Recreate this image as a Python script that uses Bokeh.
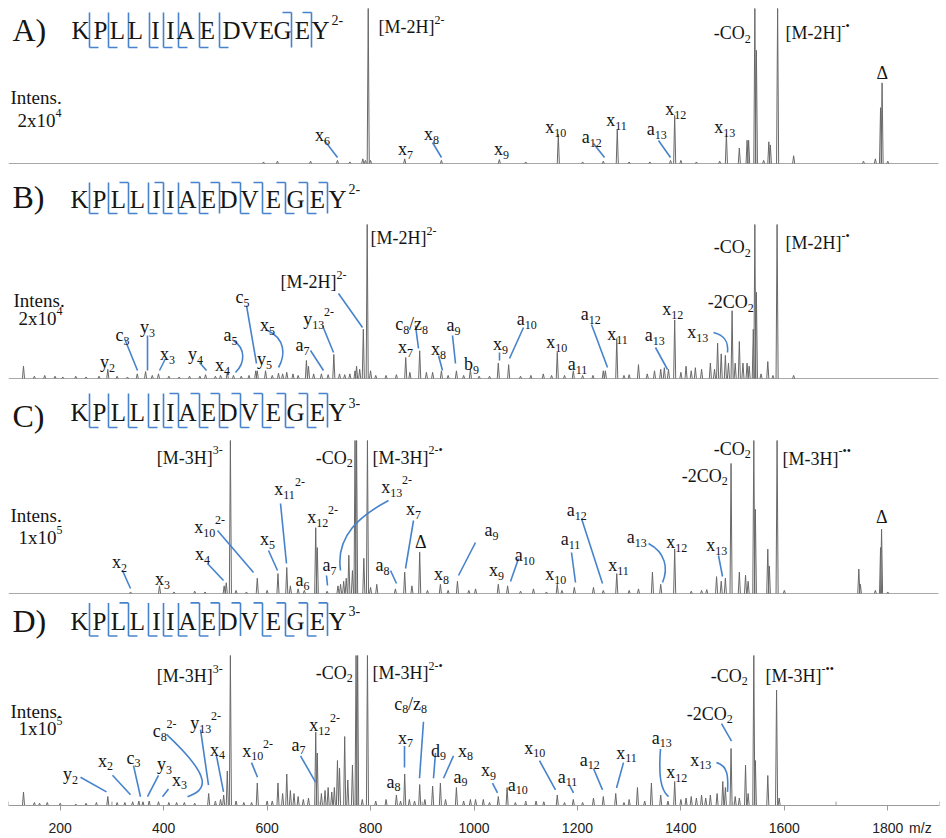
import re
import numpy as np
from bokeh.plotting import figure
from bokeh.models import Range1d, ColumnDataSource, FixedTicker
from bokeh.layouts import column
from bokeh.embed import file_html
from bokeh.resources import INLINE
from bokeh.core.properties import value

# ---------------------------------------------------------------- data
# peak lists (m/z, relative intensity in % of the displayed scale; 100 = off-scale)
mz_A = [593, 620, 684, 736, 760, 785, 790, 795.5, 800, 866, 937, 1049, 1100, 1163, 1210, 1250,
        1277, 1300, 1340, 1380, 1388, 1400, 1430, 1475, 1488, 1513, 1528, 1531, 1543, 1546,
        1560, 1570, 1573, 1587, 1618, 1753, 1776, 1786, 1789, 1800]
int_A = [1, 1.5, 1.5, 2, 1, 3, 2, 100, 2, 3, 2, 2.5, 1, 19, 1, 1.5,
         22, 1, 1, 2, 31, 2, 1, 1.5, 19, 10, 15, 15, 100, 73,
         2, 14, 12, 100, 5, 1.5, 3, 36, 52, 1.5]

mz_B = [129, 150, 170, 190, 205, 230, 250, 275, 292, 310, 330, 349, 365, 378, 390, 410, 430, 450,
        470, 481, 500, 510, 523, 535, 550, 565, 578, 581, 597, 610, 622, 630, 638, 650, 660, 676,
        680, 690, 705, 718, 729, 740, 750, 760, 770, 773, 779, 786, 793.5, 800, 810, 830, 850,
        868, 876, 895, 908, 920, 937, 950, 966, 980, 993, 1010, 1030, 1047, 1067, 1090, 1110,
        1134, 1150, 1161, 1175, 1192, 1210, 1230, 1250, 1254, 1276, 1290, 1300, 1318, 1335,
        1349, 1361, 1368, 1376, 1388, 1400, 1410, 1420, 1428, 1440, 1457, 1465, 1471, 1478,
        1486, 1492, 1499, 1505, 1513, 1520, 1528, 1532, 1540, 1543, 1546, 1555, 1568, 1578,
        1586, 1618]
int_B = [8, 1.5, 2, 1.5, 1, 1.5, 1, 1.5, 6, 1.5, 1, 3, 4.5, 2, 3, 1.5, 1, 1.5,
         1.5, 2.5, 1.5, 2, 4, 2, 1.5, 2, 5, 5, 5, 2, 3.5, 3, 4, 3, 2, 11.7,
         8, 3, 3, 2.5, 15.6, 3, 2.5, 3, 5, 8, 6, 32, 100, 5, 2, 2, 2.5,
         13.6, 4, 18, 4, 4, 5, 2, 5, 2, 6, 1.5, 1.5, 10, 9, 1.5, 2,
         3, 2, 17, 2, 5, 2, 2, 5, 5, 26, 2, 2.5, 9, 3,
         5, 6, 7, 6, 38, 4, 8, 5, 7, 6, 10, 6, 23, 16,
         15, 10, 44, 10, 24, 10, 10, 8, 32, 100, 56, 3, 11, 2,
         100, 2]

mz_C = [336, 392, 420, 460, 480, 517, 521, 529, 540, 560, 581, 600, 621, 638, 645, 660, 672,
        694, 697, 716, 737, 742, 748, 753, 758, 765, 770, 773, 787, 794, 800, 812, 848, 866,
        880, 895, 910, 935, 950, 968, 990, 1003, 1047, 1065, 1090, 1115, 1140, 1161, 1170,
        1194, 1231, 1250, 1276, 1300, 1318, 1345, 1361, 1388, 1420, 1440, 1450, 1469, 1478,
        1486, 1497, 1513, 1525, 1530, 1541, 1544, 1568, 1571, 1586, 1600, 1744, 1747, 1776,
        1786, 1788, 1800]
int_C = [1, 5, 1, 1.5, 1, 5, 7, 100, 2, 1, 10, 2, 13, 17, 5, 3, 2,
         43, 30, 1.5, 5, 6, 8, 10, 25, 15, 100, 100, 23, 100, 4, 6, 3, 14,
         5, 27, 2, 6, 2, 8, 2, 3, 6, 5, 1.5, 3, 1, 6, 2,
         4, 4, 2, 13, 2, 3, 14, 6, 29, 1.5, 2, 2.5, 11, 8,
         10, 85, 14, 12, 8, 100, 55, 29, 18, 100, 2, 16, 6, 2,
         30, 42, 1]

mz_D = [129, 150, 160, 175, 200, 230, 250, 270, 292, 310, 325, 340, 352, 360, 372, 390, 410, 425,
        440, 460, 487, 500, 510, 516, 523, 529, 540, 555, 570, 581, 600, 610, 621, 630, 638,
        645, 652, 660, 670, 680, 694, 697, 705, 712, 718, 725, 730, 736, 740, 750, 756, 765,
        772, 775, 784, 794, 810, 830, 850, 858, 866, 875, 885, 895, 905, 920, 935, 945, 966,
        980, 993, 1003, 1018, 1030, 1047, 1064, 1080, 1100, 1120, 1135, 1161, 1175, 1192,
        1210, 1231, 1250, 1274, 1290, 1300, 1316, 1330, 1343, 1361, 1375, 1388, 1400, 1410,
        1420, 1430, 1440, 1448, 1457, 1470, 1481, 1486, 1497, 1505, 1513, 1525, 1530, 1541,
        1544, 1568, 1585, 1590]
int_D = [9, 2, 1.5, 2, 1.5, 1, 1.5, 2, 6, 2, 2, 2.5, 3, 2.5, 3, 2.5, 2, 2,
         2, 1.5, 8, 3, 4, 7, 23, 100, 3, 2, 2, 15, 3, 3, 15, 8, 21,
         10, 8, 6, 4, 5, 49, 35, 8, 10, 12, 9, 12, 30, 25, 46, 17, 27,
         100, 100, 4, 100, 3, 4, 7, 3, 21, 4, 3, 14, 4, 13, 15, 4, 12,
         3, 4, 4, 4, 2, 6, 12, 2, 3, 3, 2.5, 7, 2, 4,
         2, 5, 6, 8, 2, 4, 12, 3, 15, 7, 3, 16, 4, 5,
         6, 5, 7, 5, 7, 8, 16, 12, 38, 6, 5, 27, 8, 100,
         30, 20, 77, 5]

sequence = ["K", "P", "L", "L", "I", "I", "A", "E", "D", "V", "E", "G", "E", "Y"]
precursor_charge = {"A": "2-", "B": "2-", "C": "3-", "D": "3-"}
# cleavage sites (1 = between residue 1 and 2) with N-terminal (a/b/c/d) and C-terminal (x/y/z) ions
n_sites = {"A": [12, 13], "B": [3, 5, 7, 8, 9, 10, 11, 12, 13],
           "C": [6, 7, 8, 9, 10, 11, 12, 13], "D": [3, 7, 8, 9, 10, 11, 12, 13]}
c_sites = {"A": [1, 2, 3, 4, 5, 6, 7, 8], "B": [1, 2, 3, 4, 5, 6, 7, 9, 10, 11, 12],
           "C": [1, 2, 3, 4, 5, 6, 7, 8, 9, 10, 11, 12], "D": [1, 2, 3, 4, 5, 6, 7, 10, 11, 12]}
intens_scale = {"A": "2x10^{4}", "B": "2x10^{4}", "C": "1x10^{5}", "D": "1x10^{5}"}
tick_values = [200, 400, 600, 800, 1000, 1200, 1400, 1600, 1800]
minor_values = [100, 300, 500, 700, 900, 1100, 1300, 1500, 1700, 1900]
xlabel = "m/z"

# ---------------------------------------------------------------- layout (annotation placement)
W = 946
XMIN, XMAX = 100, 1900
FL, FR = 8, 939                      # frame left/right in page px
PXPER = (FR - FL) / (XMAX - XMIN)


def px2mz(px):
    return XMIN + (px - FL) / PXPER


REF = {"A": (163, 8), "B": (378, 224), "C": (593, 440), "D": (811, 657)}


def py2i(pn, py):
    b, c = REF[pn]
    return (b - py) / (b - c) * 100.0


# label markup, centre x, centre y, alignment
ann = {
    "A": [("[M-2H]^{2-}", 378, 27, "l"), ("-CO_{2}", 750, 33, "r"), ("[M-2H]^{-•}", 785, 33, "l"),
          ("Δ", 881.5, 73, "c"), ("x_{6}", 322, 133, "c"), ("x_{7}", 405, 147, "c"),
          ("x_{8}", 431, 132, "c"), ("x_{9}", 501, 147, "c"), ("x_{10}", 555, 125, "c"),
          ("a_{12}", 591, 135, "c"), ("x_{11}", 616, 118, "c"), ("a_{13}", 656, 127, "c"),
          ("x_{12}", 675, 107, "c"), ("x_{13}", 724, 125, "c")],
    "B": [("[M-2H]^{2-}", 370, 238, "l"), ("[M-2H]^{2-}", 280, 282, "l"), ("-CO_{2}", 750, 247, "r"),
          ("[M-2H]^{-•}", 785, 243, "l"), ("-2CO_{2}", 753, 302, "r"), ("c_{5}", 242, 295, "c"),
          ("a_{5}", 230, 333, "c"), ("x_{5}", 267, 323, "c"), ("y_{5}", 264, 357, "c"),
          ("x_{4}", 222, 363, "c"), ("y_{4}", 195, 352, "c"), ("x_{3}", 167, 352, "c"),
          ("y_{3}", 147, 325, "c"), ("c_{3}", 122, 333, "c"), ("y_{2}", 107, 360, "c"),
          ("a_{7}", 302, 343, "c"), ("y_{13}^{2-}", 318, 317, "c"), ("c_{8}/z_{8}", 411, 322, "c"),
          ("x_{7}", 405, 345, "c"), ("x_{8}", 438, 347, "c"), ("a_{9}", 453, 323, "c"),
          ("b_{9}", 471, 362, "c"), ("x_{9}", 500, 342, "c"), ("a_{10}", 526, 317, "c"),
          ("x_{10}", 556, 340, "c"), ("a_{11}", 577, 362, "c"), ("a_{12}", 590, 312, "c"),
          ("x_{11}", 617, 332, "c"), ("a_{13}", 654, 333, "c"), ("x_{12}", 672, 307, "c"),
          ("x_{13}", 697, 330, "c")],
    "C": [("[M-3H]^{3-}", 222, 457, "r"), ("-CO_{2}", 352, 457, "r"), ("[M-3H]^{2-•}", 372, 457, "l"),
          ("x_{10}^{2-}", 209, 525, "c"), ("x_{4}", 202, 552, "c"), ("x_{2}", 119, 560, "c"),
          ("x_{3}", 162, 577, "c"), ("x_{5}", 267, 537, "c"), ("x_{11}^{2-}", 289, 487, "c"),
          ("x_{12}^{2-}", 322, 515, "c"), ("a_{6}", 302, 578, "c"), ("a_{7}", 329, 563, "c"),
          ("x_{13}^{2-}", 396, 485, "c"), ("x_{7}", 413, 507, "c"), ("a_{8}", 382, 563, "c"),
          ("Δ", 420, 542, "c"), ("x_{8}", 441, 572, "c"), ("a_{9}", 491, 528, "c"),
          ("x_{9}", 496, 568, "c"), ("a_{10}", 524, 553, "c"), ("x_{10}", 555, 572, "c"),
          ("a_{11}", 570, 537, "c"), ("a_{12}", 576, 508, "c"), ("x_{11}", 618, 563, "c"),
          ("a_{13}", 636, 535, "c"), ("x_{12}", 676, 540, "c"), ("x_{13}", 716, 543, "c"),
          ("-2CO_{2}", 727, 475, "r"), ("-CO_{2}", 750, 448, "r"), ("[M-3H]^{-••}", 782, 458, "l"),
          ("Δ", 881, 517, "c")],
    "D": [("[M-3H]^{3-}", 222, 678, "r"), ("-CO_{2}", 352, 675, "r"), ("[M-3H]^{2-•}", 372, 675, "l"),
          ("y_{2}", 70, 777, "c"), ("x_{2}", 105, 763, "c"), ("c_{3}", 133, 760, "c"),
          ("y_{3}", 164, 767, "c"), ("x_{3}", 179, 783, "c"), ("c_{8}^{2-}", 164, 733, "c"),
          ("y_{13}^{2-}", 205, 725, "c"), ("x_{4}", 217, 752, "c"), ("x_{10}^{2-}", 257, 753, "c"),
          ("a_{7}", 298, 747, "c"), ("x_{12}^{2-}", 324, 727, "c"), ("c_{8}/z_{8}", 410, 705, "c"),
          ("x_{7}", 405, 740, "c"), ("d_{9}", 438, 753, "c"), ("x_{8}", 465, 753, "c"),
          ("a_{8}", 393, 785, "c"), ("a_{9}", 460, 780, "c"), ("x_{9}", 488, 773, "c"),
          ("a_{10}", 517, 788, "c"), ("x_{10}", 534, 750, "c"), ("a_{11}", 567, 780, "c"),
          ("a_{12}", 589, 762, "c"), ("x_{11}", 626, 755, "c"), ("a_{13}", 661, 740, "c"),
          ("x_{12}", 676, 775, "c"), ("x_{13}", 700, 762, "c"), ("-2CO_{2}", 732, 717, "r"),
          ("-CO_{2}", 747, 678, "r"), ("[M-3H]^{-••}", 765, 678, "l")],
}
leaders = {
    "A": [[(324, 140), (337, 157)], [(432, 142), (441, 157)], [(593, 143), (604, 157)],
          [(658, 140), (670, 157)]],
    "B": [[(338, 293), (362, 327)], [(246, 305), (256, 363)], [(199, 362), (206, 370)],
          [(165, 358), (159, 370)], [(147, 335), (147, 370)], [(124, 338), (137, 370)],
          [(310, 350), (323, 370)], [(322, 325), (333, 352)], [(415, 325), (418, 348)],
          [(438, 355), (442, 370)], [(452, 335), (455, 363)], [(499, 352), (499, 360)],
          [(523, 327), (509, 358)], [(591, 324), (607, 367)], [(655, 347), (667, 369)]],
    "C": [[(217, 530), (253, 572)], [(207, 563), (223, 580)], [(122, 570), (130, 588)],
          [(268, 550), (277, 570)], [(280, 503), (286, 563)], [(326, 575), (327, 585)],
          [(413, 520), (405, 568)], [(390, 570), (396, 583)], [(475, 542), (458, 575)],
          [(518, 558), (510, 581)], [(571, 552), (575, 582)], [(581, 518), (602, 583)],
          [(718, 555), (722, 576)]],
    "D": [[(80, 782), (106, 797)], [(112, 780), (130, 800)], [(133, 770), (140, 802)],
          [(158, 780), (147, 802)], [(168, 794), (162, 802)], [(200, 733), (208, 790)],
          [(216, 760), (223, 797)], [(251, 767), (257, 782)], [(300, 760), (315, 787)],
          [(423, 725), (419, 783)], [(404, 750), (404, 772)], [(435, 757), (433, 783)],
          [(453, 760), (443, 783)], [(492, 788), (497, 798)], [(539, 765), (555, 795)],
          [(569, 790), (573, 798)], [(593, 773), (602, 795)], [(623, 767), (616, 793)],
          [(721, 727), (731, 745)]],
}
curves = {
    "A": [],
    "B": [[(233, 340), (245, 348), (245, 362), (235, 372)],
          [(267, 330), (285, 338), (285, 355), (278, 367)],
          [(713, 332), (725, 335), (728, 342), (727, 352)]],
    "C": [[(388, 500), (360, 515), (335, 535), (340, 570)],
          [(648, 543), (665, 552), (668, 568), (662, 582)]],
    "D": [[(166, 738), (215, 785), (205, 795), (187, 802)],
          [(660, 753), (658, 780), (660, 795), (668, 802)],
          [(716, 767), (727, 770), (728, 780), (727, 797)]],
}
BCD_CX = [79, 99, 118, 137, 156, 170, 187, 208, 228, 249, 273, 295, 317, 337]
BCD_SITES = [89, 108, 128, 148, 163, 178, 199, 219, 240, 262, 285, 307, 327]
seq_layout = {
    "A": dict(cx=[80, 100, 117, 135, 155, 170, 185, 207, 231, 249, 266, 282, 302, 320], sup=331,
              sites=[89, 108, 128, 149, 163, 178, 199, 219, 240, 258, 274, 291, 311], cy=30, top=12, bot=47),
    "B": dict(cx=BCD_CX, sup=348, sites=BCD_SITES, cy=199, top=182, bot=213),
    "C": dict(cx=BCD_CX, sup=348, sites=BCD_SITES, cy=412, top=393, bot=427),
    "D": dict(cx=BCD_CX, sup=348, sites=BCD_SITES, cy=622, top=603, bot=637),
}
panel_cy = {"A": 30, "B": 197, "C": 415, "D": 622}
intens_pos = {"A": (10, 97, 17, 120), "B": (13, 300, 18, 318), "C": (10, 515, 18, 537), "D": (10, 715, 18, 732)}

# figure geometry: height, y-range (baseline 0, 100 = clipping height)
geom = {"A": (165, (-1.29, 105.16)), "B": (215, (-1.30, 138.31)), "C": (215, (-1.31, 139.22)),
        "D": (243, (0.0, 140.0))}

BLUE = "#4683cc"
FONT = "Liberation Serif"
TW = {'a': 444, 'b': 500, 'c': 444, 'd': 500, 'x': 500, 'y': 500, 'z': 444, '-': 333, '[': 333,
      ']': 333, 'M': 889, 'H': 722, 'C': 667, 'O': 722, '/': 278, 'Δ': 612, '•': 350, ' ': 250,
      'I': 333, 'n': 500, 't': 278, 'e': 444, 's': 389, '.': 250}


def tw(s, size):
    return sum(TW.get(ch, 500) for ch in s) * size / 1000.0


def parse(s):
    out = []
    for m in re.finditer(r'([_^])\{([^}]*)\}|([^_^]+)', s):
        if m.group(3):
            out.append((m.group(3), 'n'))
        else:
            out.append((m.group(2), 'b' if m.group(1) == '_' else 'p'))
    return out


def add_text(cols, pn, mk, cx, cy, align, size, small=0.65):
    parts = parse(mk)
    ws = [tw(t, size if k == 'n' else size * small) for t, k in parts]
    total = sum(ws)
    start = cx if align == "l" else (cx - total if align == "r" else cx - total / 2.0)
    first = parts[0][0][0]
    ymid = cy + (0.1 * size if first.islower() else 0.0)
    xcur = start
    for (t, k), w in zip(parts, ws):
        fs = size if k == 'n' else round(size * small)
        yo = 0 if k == 'n' else (0.3 * size if k == 'b' else -0.4 * size)
        cols["x"].append(px2mz(xcur))
        cols["y"].append(py2i(pn, ymid))
        cols["text"].append(t)
        cols["fs"].append("%dpx" % fs)
        cols["yo"].append(yo)
        xcur += w


data = {"A": (mz_A, int_A), "B": (mz_B, int_B), "C": (mz_C, int_C), "D": (mz_D, int_D)}
xr = Range1d(XMIN, XMAX)
figs = []
for pn in ["A", "B", "C", "D"]:
    h, yr = geom[pn]
    axis = pn == "D"
    p = figure(width=W, height=h, x_range=xr, y_range=Range1d(*yr), output_backend="svg",
               toolbar_location=None, tools="", x_axis_location="below" if axis else None,
               y_axis_location=None, min_border_left=FL, min_border_right=W - FR,
               min_border_top=0, min_border_bottom=26 if axis else 0, outline_line_color=None)
    p.grid.visible = False
    p.background_fill_color = "white"
    p.border_fill_color = "white"

    mz, it = data[pn]
    mz = np.asarray(mz, float)
    it = np.minimum(np.asarray(it, float), 100.0)
    wd = 2.0
    if not axis:
        p.line([XMIN, XMAX - 2], [0, 0], line_color="#a8a8a8", line_width=1)
    xs = [[m - wd, m, m + wd] for m in mz]
    ys = [[0, v, 0] for v in it]
    p.multi_line(xs, ys, line_color="#686868", line_width=1)

    # leaders
    lx = [[px2mz(a[0]) for a in seg] for seg in leaders[pn]]
    ly = [[py2i(pn, a[1]) for a in seg] for seg in leaders[pn]]
    if lx:
        p.multi_line(lx, ly, line_color=BLUE, line_width=1.6)
    for c in curves[pn]:
        p.bezier(x0=[px2mz(c[0][0])], y0=[py2i(pn, c[0][1])], x1=[px2mz(c[3][0])], y1=[py2i(pn, c[3][1])],
                 cx0=[px2mz(c[1][0])], cy0=[py2i(pn, c[1][1])], cx1=[px2mz(c[2][0])], cy1=[py2i(pn, c[2][1])],
                 line_color=BLUE, line_width=1.6)

    # sequence brackets
    sl = seq_layout[pn]
    bx, by = [], []
    hook = 9
    for s in range(1, 14):
        xpx = sl["sites"][s - 1]
        hasn = s in n_sites[pn]
        hasc = s in c_sites[pn]
        if not (hasn or hasc):
            continue
        bx.append([px2mz(xpx)] * 2)
        by.append([py2i(pn, sl["top"]), py2i(pn, sl["bot"])])
        if hasn:
            bx.append([px2mz(xpx - hook), px2mz(xpx)])
            by.append([py2i(pn, sl["top"])] * 2)
        if hasc:
            bx.append([px2mz(xpx), px2mz(xpx + hook)])
            by.append([py2i(pn, sl["bot"])] * 2)
    p.multi_line(bx, by, line_color=BLUE, line_width=1.6)

    # texts
    cols = {"x": [], "y": [], "text": [], "fs": [], "yo": []}
    for mk, cx, cy, al in ann[pn]:
        add_text(cols, pn, mk, cx, cy, al, 18)
    add_text(cols, pn, pn + ")", 12, panel_cy[pn], "l", 32)
    ix, iy, sx, sy = intens_pos[pn]
    add_text(cols, pn, "Intens.", ix, iy, "l", 19)
    add_text(cols, pn, intens_scale[pn], sx, sy, "l", 19)
    add_text(cols, pn, "^{" + precursor_charge[pn] + "}", sl["sup"], sl["cy"], "l", 25, small=0.56)
    src = ColumnDataSource(cols)
    p.text(x="x", y="y", text="text", text_font_size="fs", y_offset="yo", source=src,
           text_font=value(FONT), text_align="left", text_baseline="middle", text_color="#151515")
    seqsrc = ColumnDataSource(dict(x=[px2mz(c) for c in sl["cx"]],
                                   y=[py2i(pn, sl["cy"])] * len(sequence), text=sequence))
    p.text(x="x", y="y", text="text", source=seqsrc, text_font=value(FONT), text_font_size="25px",
           text_align="center", text_baseline="middle", text_color="#151515")

    if axis:
        ax = p.xaxis[0]
        label_pos = 1863
        ax.ticker = FixedTicker(ticks=tick_values + [label_pos], minor_ticks=tick_values)
        ax.major_label_overrides = {label_pos: xlabel}
        ax.axis_line_color = "#9a9a9a"
        ax.major_tick_line_color = None
        ax.minor_tick_line_color = "#9a9a9a"
        ax.minor_tick_in = 0
        ax.minor_tick_out = 5
        ax.major_label_standoff = 8
        ax.major_label_text_font = "Liberation Sans"
        ax.major_label_text_font_size = "14px"
        ax.major_label_text_color = "#222222"
        # inward ticks at the odd hundreds
        p.segment(x0=minor_values, y0=[0] * len(minor_values), x1=minor_values,
                  y1=[2.6] * len(minor_values), line_color="#9a9a9a", line_width=1)
    figs.append(p)

layout = column(*figs, spacing=0)
open("out.html", "w").write(file_html(layout, INLINE))
